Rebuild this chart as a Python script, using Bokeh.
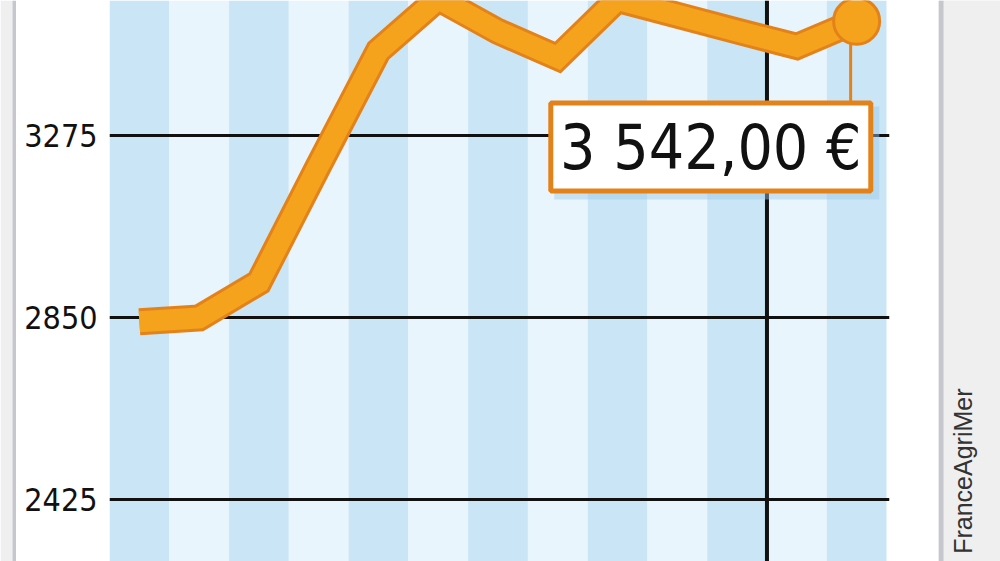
from math import pi

from bokeh.embed import file_html
from bokeh.layouts import row
from bokeh.models import FixedTicker, Range1d
from bokeh.plotting import figure
from bokeh.resources import INLINE

# monthly price (EUR/t), x = month slot (one stripe per month)
months = [0.5, 1.5, 2.5, 3.5, 4.5, 5.5, 6.5, 7.5, 8.5, 9.5, 10.5, 11.5, 12.5]
prices = [2840, 2849, 2932, 3205, 3473, 3595, 3518, 3457, 3593, 3556, 3519, 3483, 3542]
y_ticks = [2425, 2850, 3275]
n_stripes = 13
year_break = 11
source = "FranceAgriMer"

H = 561
ORANGE = "#f5a31c"
ORANGE_DARK = "#e4821a"
FONT = "DejaVu Sans Condensed"

p = figure(width=922, height=H, x_range=Range1d(0, 13.05), y_range=Range1d(2280.2, 3590.3),
           output_backend="svg", toolbar_location=None,
           min_border_left=93, min_border_right=49, min_border_top=0, min_border_bottom=0)
p.outline_line_color = None
p.background_fill_color = "white"
p.border_fill_color = "white"
p.xaxis.visible = False
p.xgrid.visible = False

# month stripes
lefts = list(range(n_stripes))
colors = ["#c9e5f6" if i % 2 == 0 else "#e9f5fd" for i in lefts]
p.quad(left=lefts, right=[i + 1 for i in lefts], bottom=p.y_range.start, top=p.y_range.end,
       fill_color=colors, line_color=None, level="image")

p.yaxis.ticker = FixedTicker(ticks=y_ticks)
p.yaxis.axis_line_color = None
p.yaxis.major_tick_line_color = None
p.yaxis.minor_tick_line_color = None
p.yaxis.major_tick_out = 0
p.yaxis.major_label_standoff = 12
p.yaxis.major_label_text_font = FONT
p.yaxis.major_label_text_font_size = "32px"
p.yaxis.major_label_text_color = "#111111"
p.ygrid.ticker = FixedTicker(ticks=y_ticks)
p.ygrid.grid_line_color = "#111111"
p.ygrid.grid_line_width = 3

# new year separator
p.segment(x0=[year_break], y0=[p.y_range.start], x1=[year_break], y1=[p.y_range.end],
          line_color="#111111", line_width=4)

# price line: dark outline then fill
p.line(months, prices, line_color=ORANGE_DARK, line_width=27, line_join="miter")
p.line(months, prices, line_color=ORANGE, line_width=21, line_join="miter")

# callout for the last value
cx, cy = 10.06, 3248
p.segment(x0=[months[-1] - 0.1], y0=[prices[-1]], x1=[months[-1] - 0.1], y1=[cy],
          line_color=ORANGE_DARK, line_width=3)
p.scatter([months[-1]], [prices[-1]], size=46, fill_color=ORANGE,
          line_color=ORANGE_DARK, line_width=3)
px_x = 13.05 / 780
px_y = (3590.3 - 2280.2) / H
p.rect(x=[cx + 6 * px_x], y=[cy - 6 * px_y], width=325, height=93,
       width_units="screen", height_units="screen",
       fill_color="#9cc8e8", fill_alpha=0.45, line_color=None)
p.rect(x=[cx], y=[cy], width=320, height=88, width_units="screen", height_units="screen",
       fill_color="white", line_color=ORANGE_DARK, line_width=5)
last = "{:,.2f}".format(prices[-1]).replace(",", " ").replace(".", ",") + " €"
p.text(x=[cx], y=[cy], text=[last], text_align="center", text_baseline="middle",
       text_font_size="62px", text_font={"value": FONT}, text_color="#111111")

# left page edge
left = figure(width=16, height=H, x_range=Range1d(0, 16), y_range=Range1d(0, 1),
              output_backend="svg", toolbar_location=None, min_border=0)
left.axis.visible = False
left.grid.visible = False
left.outline_line_color = None
left.border_fill_color = "white"
left.quad(left=[0, 12], right=[12, 16], bottom=0, top=1,
          fill_color=["#efefef", "#c6c6cd"], line_color=None)

# right panel with source
right = figure(width=62, height=H, x_range=Range1d(0, 62), y_range=Range1d(0, H),
               output_backend="svg", toolbar_location=None, min_border=0)
right.axis.visible = False
right.grid.visible = False
right.outline_line_color = None
right.background_fill_color = "#efefef"
right.border_fill_color = "#efefef"
right.quad(left=[0], right=[5], bottom=0, top=H, fill_color="#c6c6cd", line_color=None)
right.text(x=[24], y=[H - 388], text=[source], angle=pi / 2,
           text_align="right", text_baseline="alphabetic",
           text_font={"value": "Liberation Sans"}, text_font_size="25px",
           text_color="#333333")

layout = row(left, p, right, spacing=0)
open("out.html", "w").write(file_html(layout, INLINE))
